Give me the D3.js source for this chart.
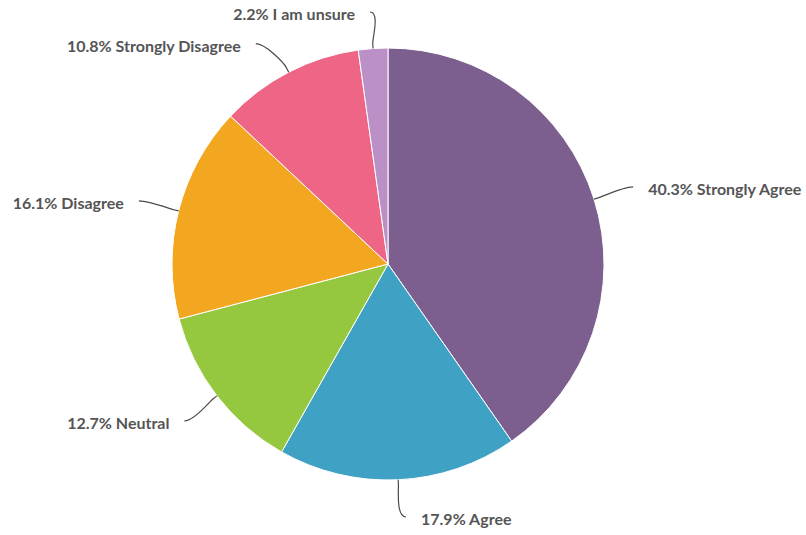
<!DOCTYPE html>
<html><head><meta charset="utf-8">
<script src="https://cdn.jsdelivr.net/npm/d3@7/dist/d3.min.js"></script>
<style>html,body{margin:0;padding:0;background:#fff;}svg{display:block;}</style>
</head><body>
<svg id="chart" width="806" height="535"></svg>
<script>
const categories = ["Strongly Agree", "Agree", "Neutral", "Disagree", "Strongly Disagree", "I am unsure"];
const values = [40.3, 17.9, 12.7, 16.1, 10.8, 2.2];
const colors = ["#7D5F8F", "#3FA2C4", "#95C83E", "#F3A61F", "#EF6586", "#BA90C6"];

const W = 806, H = 535;
const cx = 388, cy = 264, r = 216;
const R = r + 41;
const svg = d3.select("#chart");
const g = svg.append("g").attr("transform", `translate(${cx},${cy})`);

const pie = d3.pie().value(d => d.v).sort(null);
const arcs = pie(categories.map((c, i) => ({c, v: values[i], col: colors[i]})));
const arc = d3.arc().innerRadius(0).outerRadius(r);

g.selectAll("path.slice").data(arcs).enter().append("path")
  .attr("class", "slice")
  .attr("d", arc)
  .attr("fill", d => d.data.col)
  .attr("stroke", "#fff").attr("stroke-width", 1).attr("stroke-linejoin", "round");

// label layout
const labels = arcs.map(d => {
  const a = (d.startAngle + d.endAngle) / 2;
  const sign = Math.sin(a) >= 0 ? 1 : -1;
  return {d, a, sign, y: -R * Math.cos(a)};
});
[1, -1].forEach(s => {
  const side = labels.filter(l => l.sign === s).sort((p, q) => p.y - q.y);
  for (let i = 1; i < side.length; i++) {
    if (side[i].y < side[i - 1].y + 36) side[i].y = side[i - 1].y + 36;
  }
});
labels.forEach(l => {
  const dy = Math.max(-R, Math.min(R, l.y));
  l.x = l.sign * Math.max(Math.sqrt(R * R - dy * dy), 18);
  l.y = Math.max(l.y, 12 - cy);
  l.y = Math.min(l.y, H - 18 - cy);
});

const fmt = d3.format(".1f");
labels.forEach(l => {
  const E = [r * Math.sin(l.a), -r * Math.cos(l.a)];
  const B = [(r + 5) * Math.sin(l.a), -(r + 5) * Math.cos(l.a)];
  const p = d3.path();
  p.moveTo(l.x, l.y);
  p.bezierCurveTo(l.x - l.sign * 10, l.y, 2 * B[0] - E[0], 2 * B[1] - E[1], B[0], B[1]);
  p.lineTo(E[0], E[1]);
  g.append("path").attr("d", p.toString())
    .attr("fill", "none").attr("stroke", "#4a4a4a").attr("stroke-width", 1.2);
  g.append("text")
    .attr("x", l.x + l.sign * 15)
    .attr("y", l.y + 3)
    .attr("dy", "0.32em")
    .attr("text-anchor", l.sign > 0 ? "start" : "end")
    .attr("font-family", "Lato, 'Open Sans', sans-serif")
    .attr("font-weight", "bold")
    .attr("font-size", "16px")
    .attr("fill", "#555555")
    .text(`${fmt(l.d.data.v)}% ${l.d.data.c}`);
});
</script>
</body></html>
